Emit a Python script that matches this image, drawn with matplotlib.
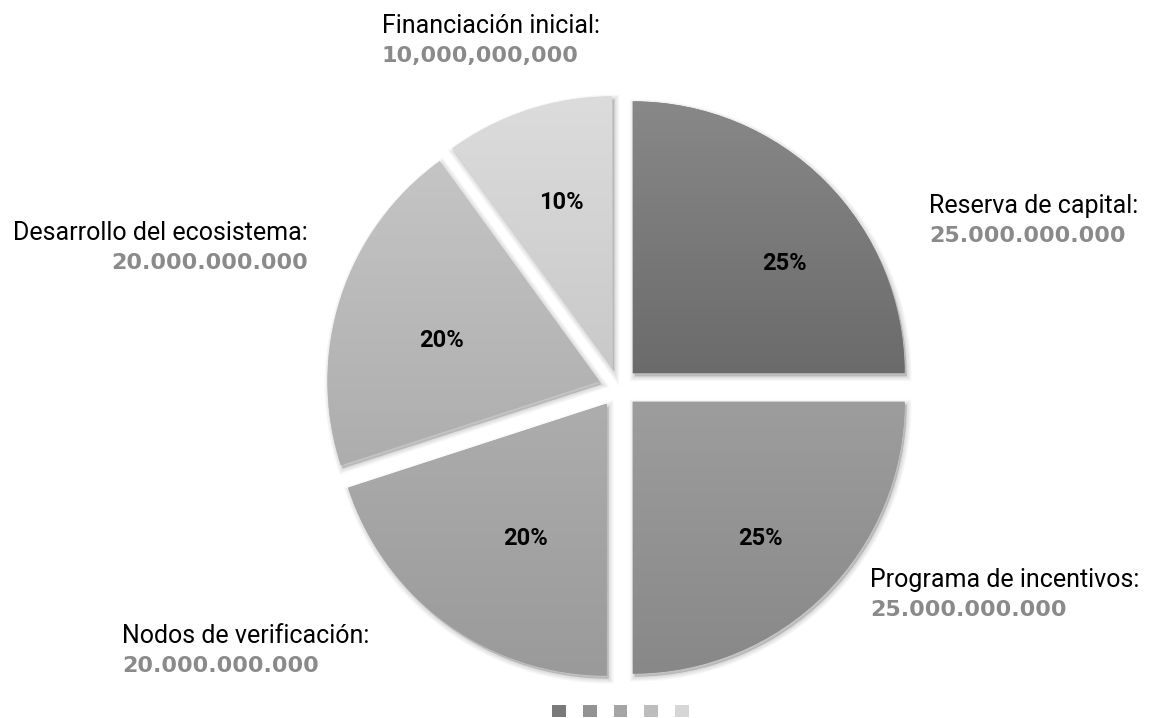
import numpy as np
import matplotlib
matplotlib.use('Agg')
import matplotlib.pyplot as plt
from matplotlib.patches import Wedge, Patch
from matplotlib.colors import LinearSegmentedColormap

names = ['Reserva de capital:', 'Programa de incentivos:', 'Nodos de verificación:',
         'Desarrollo del ecosistema:', 'Financiación inicial:']
amounts = ['25.000.000.000', '25.000.000.000', '20.000.000.000',
           '20.000.000.000', '10,000,000,000']
shares = [25, 25, 20, 20, 10]

# top / bottom gradient colours of each slice
grad_top = ['#888888', '#9d9d9d', '#adadad', '#c5c5c5', '#dcdcdc']
grad_bot = ['#6b6b6b', '#888888', '#9a9a9a', '#adadad', '#c9c9c9']
legend_cols = ['#7a7a7a', '#939393', '#a5a5a5', '#bdbdbd', '#d6d6d6']

# label layout (pixels, y from the top)
name_xy = [(929, 213), (870, 587), (122, 643), (308, 240), (382, 33)]
name_ha = ['left', 'left', 'left', 'right', 'left']
pct_pos = [(36, 0.69), (-47, 0.69), (239, 0.58), (165.5, 0.60), (107, 0.64)]

W, H = 1149, 718
fig = plt.figure(figsize=(W / 100, H / 100), dpi=100)
ax = fig.add_axes([0, 0, 1, 1])

cx, cy, R = 618.5, H - 387.5, 272
wedges, _, autotexts = ax.pie(shares, explode=[20] * 5, startangle=90,
                              counterclock=False, radius=R, center=(cx, cy),
                              colors=legend_cols, autopct='%1.0f%%',
                              wedgeprops=dict(linewidth=0),
                              textprops=dict(fontsize=17, fontweight='bold',
                                             family='Roboto', color='black'))

for i, w in enumerate(wedges):
    # soft shadow
    for k in range(7):
        sh = Wedge((w.center[0] + 2, w.center[1] - 3), w.r, w.theta1, w.theta2,
                   facecolor='black', edgecolor='black', alpha=0.025,
                   linewidth=k * 1.2, zorder=0.5)
        ax.add_patch(sh)
    w.set_zorder(1)
    # vertical gradient clipped to the slice
    ext = w.get_path().transformed(w.get_patch_transform()).get_extents()
    cmap = LinearSegmentedColormap.from_list('g%d' % i, [grad_bot[i], grad_top[i]])
    grad = np.linspace(0, 1, 256).reshape(-1, 1)
    im = ax.imshow(grad, cmap=cmap, extent=(ext.x0, ext.x1, ext.y0, ext.y1),
                   origin='lower', aspect='auto', zorder=1.5)
    im.set_clip_path(w)

    ang, frac = pct_pos[i]
    a = np.deg2rad(ang)
    autotexts[i].set_position((w.center[0] + frac * R * np.cos(a),
                               w.center[1] + frac * R * np.sin(a)))
    autotexts[i].set_zorder(3)

for i in range(len(names)):
    x, y = name_xy[i]
    ax.text(x, H - y, names[i], ha=name_ha[i], va='baseline', fontsize=18,
            family='Roboto', color='black')
    ax.text(x, H - y - 29, amounts[i], ha=name_ha[i], va='baseline', fontsize=16,
            family='DejaVu Sans', fontweight='bold', color='#8a8a8a')

ax.set_xlim(0, W)
ax.set_ylim(0, H)
ax.set_aspect('equal')
ax.axis('off')

handles = [Patch(facecolor=c, edgecolor='none') for c in legend_cols]
fig.legend(handles, [''] * 5, ncol=5, loc='center', bbox_to_anchor=(620.5 / W, 6 / H),
           frameon=False, fontsize=10, handlelength=1.0, handleheight=1.0,
           handletextpad=0, columnspacing=1.22, borderpad=0)

fig.savefig('out.png', dpi=100)
